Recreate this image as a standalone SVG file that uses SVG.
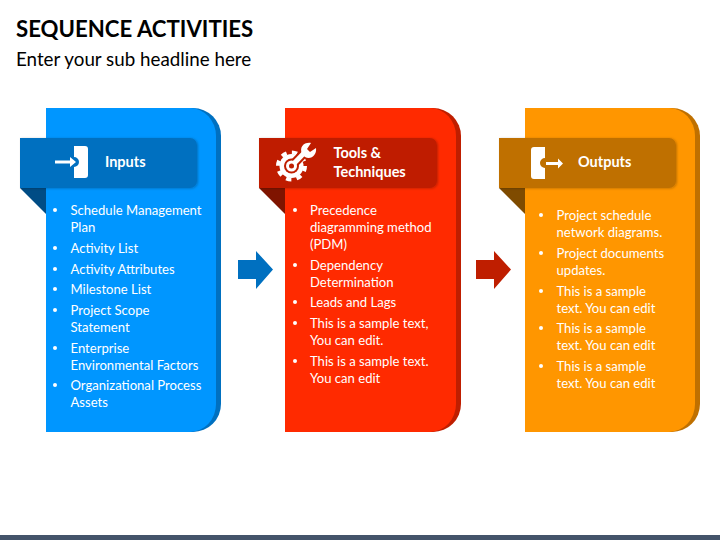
<svg xmlns="http://www.w3.org/2000/svg" width="720" height="540" viewBox="0 0 720 540">
<style>
text{font-family:Lato,"Liberation Sans",sans-serif;}
.t{font-size:22.2px;font-weight:700;fill:#000}
.s{font-size:18.8px;fill:#000}
.h{font-size:14.5px;font-weight:700;fill:#fff}
.b{font-size:13.1px;fill:#fff}
.d{fill:#fff}
</style>
<defs>
<filter id="sh" x="-5%" y="-10%" width="112%" height="125%"><feDropShadow dx="1" dy="0.5" stdDeviation="1.2" flood-color="#000" flood-opacity="0.25"/></filter>
</defs>
<rect width="720" height="540" fill="#fff"/>
<text class="t" x="16" y="36.500">SEQUENCE ACTIVITIES</text>
<text class="s" x="16" y="66">Enter your sub headline here</text>
<g id="card-inputs">
<path d="M46 108H193A28 28 0 0 1 221 136V404A28 28 0 0 1 193 432H46Z" fill="#0070c0"/>
<path d="M46 108H190A26 28 0 0 1 216 136V404A26 28 0 0 1 190 432H46Z" fill="#0096ff"/>
<path d="M20 188H46V214Z" fill="#004c85"/>
<path d="M20 138H190A7 7 0 0 1 197 145V181A7 7 0 0 1 190 188H20Z" fill="#0070c0" filter="url(#sh)"/>
<path d="M55 160.500H70V157L76 162L70 167V163.500H55Z" fill="#fff"/>
<path d="M74 146H85A3 3 0 0 1 88 149V175A3 3 0 0 1 85 178H74V167A5 5 0 0 0 74 157Z" fill="#fff"/>
<text class="h" x="105" y="167">Inputs</text>
<text class="b" x="70.500" y="215">Schedule Management</text><text class="b" x="70.500" y="232">Plan</text>
<text class="b" x="70.500" y="253">Activity List</text>
<text class="b" x="70.500" y="274">Activity Attributes</text>
<text class="b" x="70.500" y="294">Milestone List</text>
<text class="b" x="70.500" y="315">Project Scope</text><text class="b" x="70.500" y="332">Statement</text>
<text class="b" x="70.500" y="353">Enterprise</text><text class="b" x="70.500" y="370">Environmental Factors</text>
<text class="b" x="70.500" y="390">Organizational Process</text><text class="b" x="70.500" y="407">Assets</text>
<circle class="d" cx="55" cy="210" r="2"/><circle class="d" cx="55" cy="248" r="2"/><circle class="d" cx="55" cy="269" r="2"/><circle class="d" cx="55" cy="289" r="2"/><circle class="d" cx="55" cy="310" r="2"/><circle class="d" cx="55" cy="348" r="2"/><circle class="d" cx="55" cy="385" r="2"/>
</g>
<g id="card-tools">
<path d="M285 108H433A28 28 0 0 1 461 136V404A28 28 0 0 1 433 432H285Z" fill="#bf1e00"/>
<path d="M285 108H430A26 28 0 0 1 456 136V404A26 28 0 0 1 430 432H285Z" fill="#ff2a00"/>
<path d="M259 188H285V214Z" fill="#7f1400"/>
<path d="M259 138H430A7 7 0 0 1 437 145V181A7 7 0 0 1 430 188H259Z" fill="#bf1e00" filter="url(#sh)"/>
<circle cx="291.500" cy="166" r="12" fill="#fff"/>
<circle cx="291.500" cy="166" r="13.500" fill="none" stroke="#fff" stroke-width="4" stroke-dasharray="5.300 5.300"/>
<circle cx="291.500" cy="166" r="7.500" fill="#bf1e00"/>
<path d="M291.500 166L309 148" stroke="#bf1e00" stroke-width="9" fill="none"/>
<path d="M291.500 166L307 150" stroke="#fff" stroke-width="5" fill="none"/>
<path d="M302 154C299 147 304 142 311 143L307 149L310 152L316 148C317 155 311 160 305 157Z" fill="#fff"/>
<circle cx="291.500" cy="166" r="5.500" fill="#fff"/>
<circle cx="291.500" cy="166" r="2.500" fill="#bf1e00"/>
<text class="h" x="333.500" y="158">Tools &amp;</text><text class="h" x="333.500" y="177">Techniques</text>
<text class="b" x="310" y="215">Precedence</text><text class="b" x="310" y="232">diagramming method</text><text class="b" x="310" y="249">(PDM)</text>
<text class="b" x="310" y="270">Dependency</text><text class="b" x="310" y="287">Determination</text>
<text class="b" x="310" y="307">Leads and Lags</text>
<text class="b" x="310" y="328">This is a sample text,</text><text class="b" x="310" y="345">You can edit.</text>
<text class="b" x="310" y="366">This is a sample text.</text><text class="b" x="310" y="383">You can edit</text>
<circle class="d" cx="295" cy="210" r="2"/><circle class="d" cx="295" cy="265" r="2"/><circle class="d" cx="295" cy="302" r="2"/><circle class="d" cx="295" cy="323" r="2"/><circle class="d" cx="295" cy="361" r="2"/>
</g>
<g id="card-outputs">
<path d="M525 108H672A28 28 0 0 1 700 136V404A28 28 0 0 1 672 432H525Z" fill="#bf7000"/>
<path d="M525 108H669A26 28 0 0 1 695 136V404A26 28 0 0 1 669 432H525Z" fill="#ff9600"/>
<path d="M499 188H525V214Z" fill="#7f4b00"/>
<path d="M499 138H669A7 7 0 0 1 676 145V181A7 7 0 0 1 669 188H499Z" fill="#bf7000" filter="url(#sh)"/>
<path d="M545 147H534A3 3 0 0 0 531 150V176A3 3 0 0 0 534 179H545V168A5 5 0 0 1 545 158Z" fill="#fff"/>
<path d="M546 162H558V158.500L563 163.500L558 168.500V165H546Z" fill="#fff"/>
<text class="h" x="578" y="167">Outputs</text>
<text class="b" x="556.500" y="220">Project schedule</text><text class="b" x="556.500" y="237">network diagrams.</text>
<text class="b" x="556.500" y="258">Project documents</text><text class="b" x="556.500" y="275">updates.</text>
<text class="b" x="556.500" y="296">This is a sample</text><text class="b" x="556.500" y="313">text. You can edit</text>
<text class="b" x="556.500" y="333">This is a sample</text><text class="b" x="556.500" y="350">text. You can edit</text>
<text class="b" x="556.500" y="371">This is a sample</text><text class="b" x="556.500" y="388">text. You can edit</text>
<circle class="d" cx="541" cy="215" r="2"/><circle class="d" cx="541" cy="253" r="2"/><circle class="d" cx="541" cy="291" r="2"/><circle class="d" cx="541" cy="328" r="2"/><circle class="d" cx="541" cy="366" r="2"/>
</g>
<g id="connectors">
<path d="M238 260H256V251L273 269.500L256 289V279H238Z" fill="#0070c0"/>
<path d="M476 260H494V251L511 269.500L494 289V279H476Z" fill="#bf1e00"/>
</g>
<rect id="footer" y="535" width="720" height="5" fill="#44546a"/>
</svg>
